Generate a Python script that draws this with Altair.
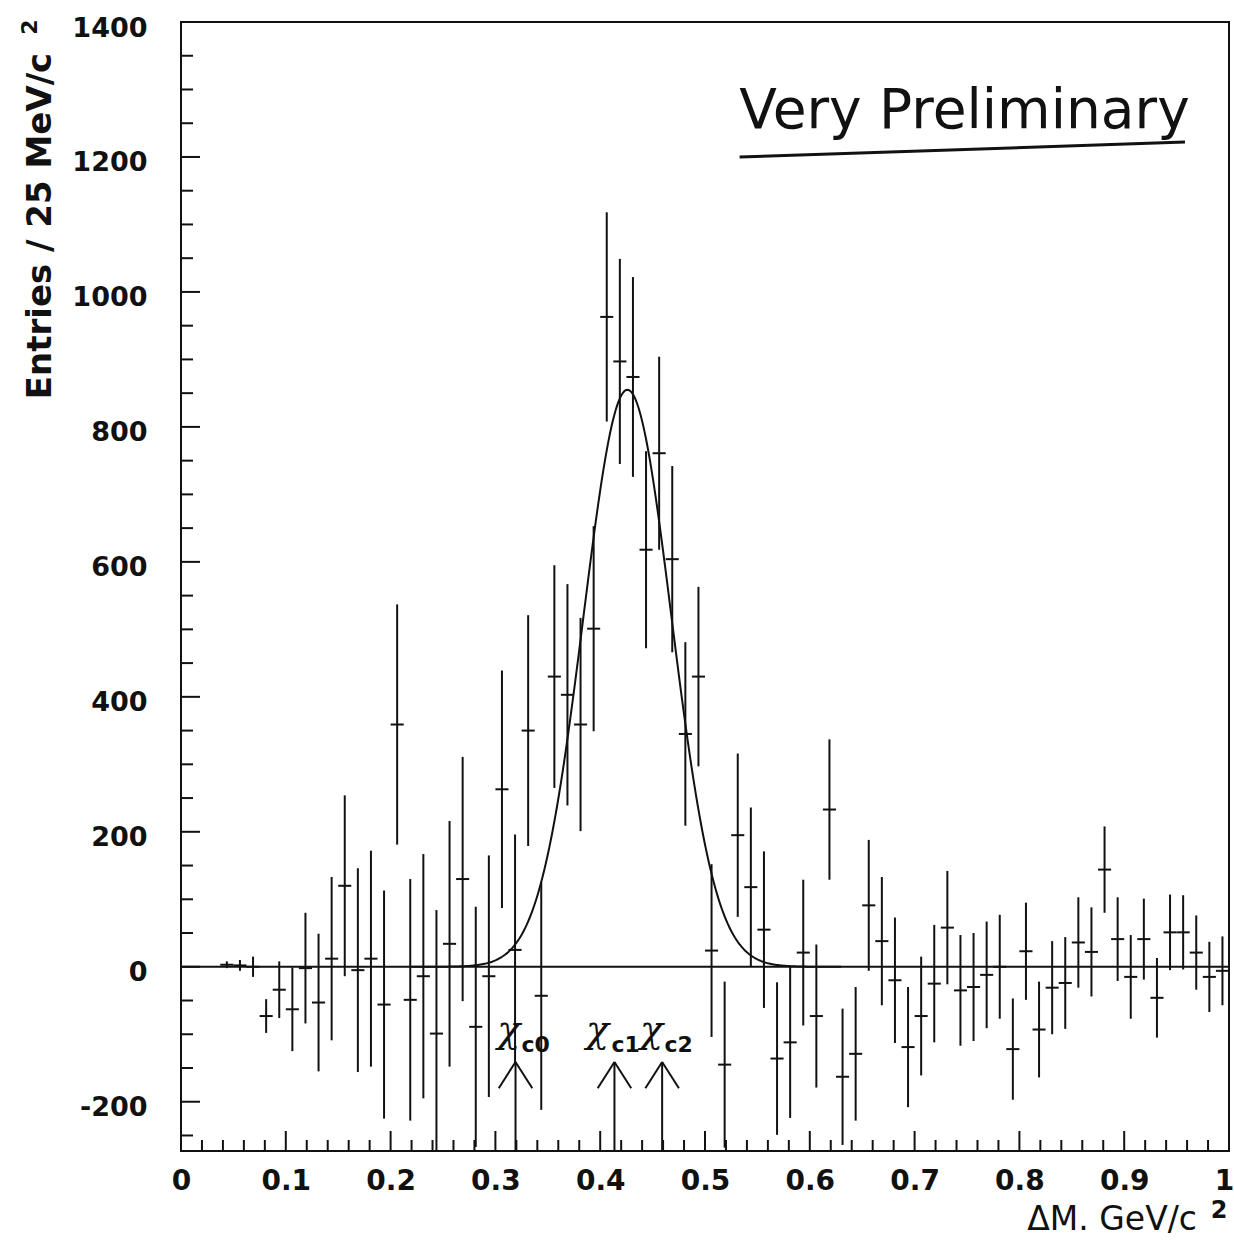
import altair as alt
import pandas as pd
import numpy as np

# ---------------- data ----------------
BIN_WIDTH = 0.0125
bin_index = list(range(3, 80))
counts = [3, 2, 0, -73, -34, -63, -2, -53, 12, 120,
          -5, 12, -56, 359, -49, -14, -99, 34, 130, -89,
          -14, 263, 25, 350, -43, 430, 403, 359, 501, 963,
          897, 874, 618, 761, 604, 345, 430, 24, -145, 195,
          118, 55, -136, -112, 21, -73, 233, -163, -129, 91,
          38, -20, -119, -73, -25, 58, -35, -30, -12, 0,
          -122, 23, -93, -31, -24, 36, 22, 144, 41, -15,
          41, -46, 51, 51, 21, -15, -6]
errors = [5, 8, 15, 25, 42, 62, 82, 102, 121, 134,
          151, 160, 169, 178, 179, 181, 183, 182, 181, 178,
          179, 176, 171, 171, 169, 165, 164, 158, 152, 155,
          152, 148, 146, 143, 138, 136, 133, 128, 123, 121,
          118, 116, 113, 112, 108, 106, 104, 101, 99, 97,
          95, 93, 89, 88, 87, 84, 82, 80, 79, 77,
          75, 72, 71, 69, 68, 67, 66, 64, 62, 62,
          60, 59, 56, 55, 55, 52, 51]

# Gaussian fit parameters
FIT_AMP = 855
FIT_MEAN = 0.426
FIT_SIGMA = 0.042
FIT_RANGE = [0.22, 0.63]

x_major = [0, 0.1, 0.2, 0.3, 0.4, 0.5, 0.6, 0.7, 0.8, 0.9, 1]
x_minor = [0.02, 0.04, 0.06, 0.08, 0.12, 0.14, 0.16, 0.18, 0.22, 0.24, 0.26, 0.28,
           0.32, 0.34, 0.36, 0.38, 0.42, 0.44, 0.46, 0.48, 0.52, 0.54, 0.56, 0.58,
           0.62, 0.64, 0.66, 0.68, 0.72, 0.74, 0.76, 0.78, 0.82, 0.84, 0.86, 0.88,
           0.92, 0.94, 0.96, 0.98]
y_major = [-200, 0, 200, 400, 600, 800, 1000, 1200, 1400]
y_minor = [-250, -150, -100, -50, 50, 100, 150, 250, 300, 350, 450, 500, 550,
           650, 700, 750, 850, 900, 950, 1050, 1100, 1150, 1250, 1300, 1350]
X_DOMAIN = [0, 1]
Y_DOMAIN = [-273, 1400]

chi_subs = ["c0", "c1", "c2"]
chi_arrow_x = [0.3192, 0.4136, 0.4591]
chi_symbol_x = [0.3128, 0.3974, 0.4490]
chi_sub_x = [0.3249, 0.4108, 0.4614]
ARROW_TIP = -141
ARROW_HEAD = -180
ARROW_HALF = 0.016
CHI_Y = -95
CHI_SUB_Y = -116

note_text = "Very Preliminary"
note_x, note_y = 0.7476, 1243
underline_x = [0.533, 0.958]
underline_y = [1200, 1222]

# ---------------- layout ----------------
W, H = 1048, 1129
INK = "#111111"

xs = alt.Scale(domain=X_DOMAIN, nice=False, zero=False)
ys = alt.Scale(domain=Y_DOMAIN, nice=False, zero=False)

centers = [(i + 0.5) * BIN_WIDTH for i in bin_index]
pts = pd.DataFrame({"x": centers, "n": counts, "e": errors})
pts["lo"] = pts["n"] - pts["e"]
pts["hi"] = pts["n"] + pts["e"]
pts["xl"] = pts["x"] - BIN_WIDTH / 2
pts["xr"] = pts["x"] + BIN_WIDTH / 2

xaxis = alt.Axis(values=x_major, format="~g", ticks=False, domain=False, grid=False,
                 labelFont="DejaVu Sans", labelFontWeight="bold", labelFontSize=28,
                 labelColor=INK, labelPadding=16, labelFlush=False, title=None,
                 labelOffset={"condition": {"test": "datum.value >= 1", "value": -5},
                              "value": 0})
yaxis = alt.Axis(values=y_major, labelExpr="datum.value + ''", ticks=False, domain=False,
                 grid=False, labelFont="DejaVu Sans", labelFontWeight="bold",
                 labelFontSize=27, labelColor=INK, labelPadding=34, labelFlush=False,
                 labelOffset=6, title=None)


def X(f):
    return alt.X(f, scale=xs, axis=xaxis)


def Y(f):
    return alt.Y(f, scale=ys, axis=yaxis)


errbars = alt.Chart(pts).mark_rule(color=INK, strokeWidth=2, clip=True).encode(
    x=X("x:Q"), y=Y("lo:Q"), y2="hi:Q")
hbars = alt.Chart(pts).mark_rule(color=INK, strokeWidth=2, clip=True).encode(
    x=X("xl:Q"), x2="xr:Q", y=Y("n:Q"))

zero = alt.Chart(pd.DataFrame({"y": [0]})).mark_rule(color=INK, strokeWidth=2).encode(
    y=Y("y:Q"), x=alt.value(0), x2=alt.value(W))

fx = np.linspace(FIT_RANGE[0], FIT_RANGE[1], 300)
fit = pd.DataFrame({"x": fx, "y": FIT_AMP * np.exp(-0.5 * ((fx - FIT_MEAN) / FIT_SIGMA) ** 2)})
curve = alt.Chart(fit).mark_line(color=INK, strokeWidth=2, clip=True).encode(
    x=X("x:Q"), y=Y("y:Q"))

# ticks pointing inwards
ytmaj = alt.Chart(pd.DataFrame({"v": y_major})).mark_rule(color=INK, strokeWidth=2).encode(
    y=Y("v:Q"), x=alt.value(0), x2=alt.value(19))
ytmin = alt.Chart(pd.DataFrame({"v": y_minor})).mark_rule(color=INK, strokeWidth=2).encode(
    y=Y("v:Q"), x=alt.value(0), x2=alt.value(12))
xtmaj = alt.Chart(pd.DataFrame({"v": x_major})).mark_rule(color=INK, strokeWidth=2).encode(
    x=X("v:Q"), y=alt.value(H), y2=alt.value(H - 20))
xtmin = alt.Chart(pd.DataFrame({"v": x_minor})).mark_rule(color=INK, strokeWidth=2).encode(
    x=X("v:Q"), y=alt.value(H), y2=alt.value(H - 11))

# chi_c arrows
arows = []
for xa in chi_arrow_x:
    arows.append({"x": xa, "y": ARROW_TIP, "x2": xa, "y2": Y_DOMAIN[0]})
    arows.append({"x": xa, "y": ARROW_TIP, "x2": xa - ARROW_HALF, "y2": ARROW_HEAD})
    arows.append({"x": xa, "y": ARROW_TIP, "x2": xa + ARROW_HALF, "y2": ARROW_HEAD})
arrows = alt.Chart(pd.DataFrame(arows)).mark_rule(color=INK, strokeWidth=2).encode(
    x=X("x:Q"), y=Y("y:Q"), x2="x2:Q", y2="y2:Q")

chi_df = pd.DataFrame({"x": chi_symbol_x, "y": [CHI_Y] * 3, "t": ["χ"] * 3})
chi = alt.Chart(chi_df).mark_text(font="DejaVu Serif", fontSize=38, fontStyle="italic",
                                  color=INK, baseline="middle", align="center").encode(
    x=X("x:Q"), y=Y("y:Q"), text="t:N")
sub_df = pd.DataFrame({"x": chi_sub_x, "y": [CHI_SUB_Y] * 3, "t": chi_subs})
chisub = alt.Chart(sub_df).mark_text(font="DejaVu Sans", fontSize=22, fontWeight="bold",
                                     color=INK, baseline="middle", align="left").encode(
    x=X("x:Q"), y=Y("y:Q"), text="t:N")

# handwritten note
note = alt.Chart(pd.DataFrame({"x": [note_x], "y": [note_y], "t": [note_text]})).mark_text(
    font="DejaVu Sans", fontSize=55, color=INK, baseline="alphabetic", align="center").encode(
    x=X("x:Q"), y=Y("y:Q"), text="t:N")
uline = alt.Chart(pd.DataFrame({"x": [underline_x[0]], "x2": [underline_x[1]],
                                "y": [underline_y[0]], "y2": [underline_y[1]]})).mark_rule(
    color=INK, strokeWidth=3).encode(
    x=X("x:Q"), x2="x2:Q", y=Y("y:Q"), y2="y2:Q")

# axis titles
ytitle = alt.Chart(pd.DataFrame({"t": ["Entries / 25 MeV/c"]})).mark_text(
    font="DejaVu Sans", fontWeight="bold", fontSize=34, angle=270, color=INK,
    align="center", baseline="middle").encode(
    x=alt.value(-140), y=alt.value(204), text="t:N")
ysup = alt.Chart(pd.DataFrame({"t": ["2"]})).mark_text(
    font="DejaVu Sans", fontWeight="bold", fontSize=22, angle=270, color=INK,
    align="center", baseline="middle").encode(
    x=alt.value(-151), y=alt.value(5), text="t:N")
xtitle = alt.Chart(pd.DataFrame({"t": ["ΔM. GeV/c"]})).mark_text(
    font="DejaVu Sans", fontSize=33, color=INK, align="right", baseline="alphabetic").encode(
    x=alt.value(1016), y=alt.value(1208), text="t:N")
xsup = alt.Chart(pd.DataFrame({"t": ["2"]})).mark_text(
    font="DejaVu Sans", fontWeight="bold", fontSize=24, color=INK, align="center",
    baseline="alphabetic").encode(
    x=alt.value(1038), y=alt.value(1196), text="t:N")

chart = alt.layer(
    errbars, hbars, zero, curve, ytmaj, ytmin, xtmaj, xtmin, arrows, chi, chisub,
    note, uline, ytitle, ysup, xtitle, xsup,
).properties(
    width=W, height=H,
    autosize=alt.AutoSizeParams(type="none"),
    padding={"left": 181, "top": 22, "right": 5, "bottom": 90},
    background="white",
).configure_view(stroke=INK, strokeWidth=2)

chart.save("out.html", embed_options={"renderer": "svg", "actions": False})
